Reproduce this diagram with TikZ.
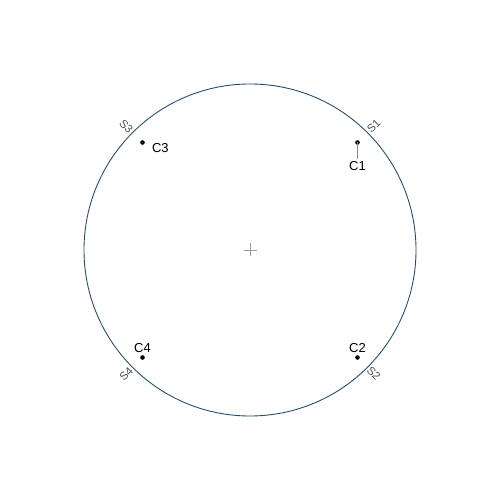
\documentclass[tikz,border=0pt]{standalone}
\usepackage{fontspec}
\setmainfont{Liberation Sans}
\usetikzlibrary{positioning}
\definecolor{ringblue}{HTML}{1F4A73}
\definecolor{labelgray}{HTML}{4D4D4D}
\definecolor{crossgray}{HTML}{9A9A9A}
\definecolor{leadgray}{HTML}{8C8C8C}
\tikzset{
  cname/.style={inner sep=1pt,font=\fontsize{7.4}{8}\selectfont},
  sname/.style={inner sep=1pt,text=labelgray,font=\fontsize{6.4}{7}\selectfont},
}

\begin{document}
\begin{tikzpicture}
  \useasboundingbox(-5,-5)rectangle(5,5);
  % contorno
  \draw[ringblue,line width=0.5pt](0,0)circle(3.32);
  % marca central
  \draw[crossgray,line width=0.4pt](-0.13,0)--(0.13,0)(0,-0.13)--(0,0.13);
  % puntos
  \coordinate(c1)at(2.15,2.15);
  \coordinate(c2)at(2.15,-2.15);
  \coordinate(c3)at(-2.15,2.15);
  \coordinate(c4)at(-2.15,-2.15);
  \foreach \p in {c1,c2,c3,c4}
    \fill(\p)circle(1.3pt);
  \node[cname,below=0.34cm of c1](lc1){C1};
  \node[cname,above=0.06cm of c2](lc2){C2};
  \node[cname,below right=-0.02cm and 0.15cm of c3](lc3){C3};
  \node[cname,above=0.06cm of c4](lc4){C4};
  \draw[leadgray,line width=0.4pt](c1)--(lc1);
  % sectores
  \node[sname,anchor=west,rotate=45](s1)at(45:3.32){S1};
  \node[sname,anchor=west,rotate=-45](s2)at(-45:3.32){S2};
  \node[sname,anchor=east,rotate=-45](s3)at(135:3.32){S3};
  \node[sname,anchor=east,rotate=45](s4)at(225:3.32){S4};
\end{tikzpicture}
\end{document}
